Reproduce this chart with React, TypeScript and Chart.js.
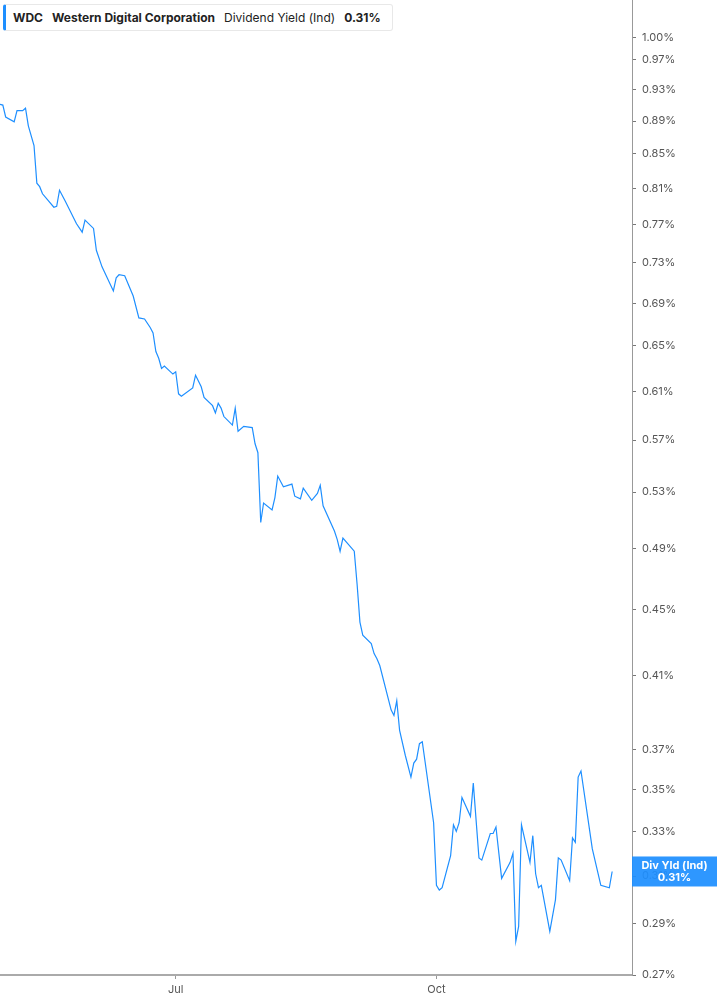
import React, { useRef, useEffect } from "react";
import { Chart, ChartConfiguration, Plugin } from "chart.js/auto";

// days counted from Jul 1
const days = [
  -62, -61, -60, -57, -56, -54, -53, -52, -50, -49, -48, -47, -43, -42, -41, -39,
  -35, -33, -32, -29, -28, -26, -22, -21, -20, -18, -15, -13, -11, -9, -8, -7,
  -6, -5, -4, -1, 0, 1, 2, 6, 7, 9, 10, 13, 14, 15, 16, 17,
  20, 21, 22, 24, 27, 28, 29, 30, 31, 34, 35, 36, 38, 41, 42, 44,
  45, 48, 50, 51, 52, 56, 57, 58, 59, 63, 64, 65, 66, 69, 70, 71,
  72, 76, 77, 78, 79, 81, 83, 84, 85, 86, 87, 91, 92, 93, 94, 97,
  98, 99, 100, 101, 104, 105, 107, 108, 111, 112, 113, 115, 118, 119, 120, 121,
  122, 125, 126, 127, 128, 129, 132, 134, 135, 136, 139, 140, 141, 142, 143, 147,
  150, 153, 154,
];

// dividend yield, %
const yieldPct = [
  0.911, 0.910, 0.895, 0.889, 0.903, 0.903, 0.906, 0.884, 0.860, 0.816, 0.812, 0.804, 0.789, 0.790, 0.808, 0.796,
  0.771, 0.762, 0.775, 0.766, 0.743, 0.726, 0.702, 0.715, 0.718, 0.717, 0.697, 0.676, 0.675, 0.667, 0.662, 0.645,
  0.639, 0.630, 0.632, 0.625, 0.627, 0.608, 0.606, 0.613, 0.624, 0.614, 0.605, 0.598, 0.592, 0.600, 0.596, 0.589,
  0.582, 0.596, 0.577, 0.581, 0.580, 0.567, 0.560, 0.508, 0.522, 0.517, 0.526, 0.542, 0.534, 0.536, 0.527, 0.525,
  0.533, 0.524, 0.529, 0.535, 0.520, 0.502, 0.496, 0.488, 0.497, 0.488, 0.466, 0.442, 0.434, 0.429, 0.423, 0.420,
  0.416, 0.391, 0.388, 0.396, 0.380, 0.367, 0.356, 0.363, 0.365, 0.373, 0.374, 0.334, 0.306, 0.304, 0.305, 0.319,
  0.333, 0.330, 0.334, 0.346, 0.337, 0.353, 0.318, 0.317, 0.329, 0.329, 0.332, 0.309, 0.316, 0.320, 0.283, 0.289,
  0.333, 0.316, 0.328, 0.311, 0.305, 0.306, 0.287, 0.300, 0.318, 0.317, 0.308, 0.327, 0.325, 0.356, 0.359, 0.322,
  0.306, 0.305, 0.312,
];

const yTicks = [
  0.27, 0.29, 0.31, 0.33, 0.35, 0.37, 0.41, 0.45, 0.49, 0.53, 0.57, 0.61, 0.65,
  0.69, 0.73, 0.77, 0.81, 0.85, 0.89, 0.93, 0.97, 1.0,
];
const xTickDays = [0, 92];
const xTickLabels = ["Jul", "Oct"];

const BLUE = "#1e8fff";
const FONT = "Inter, 'Noto Sans', sans-serif";

const lastLabel: Plugin = {
  id: "lastLabel",
  afterDraw(chart) {
    const ctx = chart.ctx;
    const ys = chart.scales.y;
    const last = yieldPct[yieldPct.length - 1];
    const cy = ys.getPixelForValue(last);
    const left = chart.chartArea.right;
    const right = chart.width;
    ctx.save();
    ctx.fillStyle = "rgba(30,143,255,0.93)";
    ctx.fillRect(left, cy - 15, right - left, 30);
    ctx.fillStyle = "#ffffff";
    ctx.font = `bold 11px ${FONT}`;
    ctx.textAlign = "center";
    ctx.textBaseline = "middle";
    const cx = (left + right) / 2;
    ctx.fillText("Div Yld (Ind)", cx, cy - 6);
    ctx.fillText(last.toFixed(2) + "%", cx, cy + 6);
    ctx.restore();
  },
};

const YieldChart: React.FC = () => {
  const chartRef = useRef<HTMLCanvasElement | null>(null);
  const chartInstanceRef = useRef<Chart | null>(null);

  useEffect(() => {
    document.body.style.margin = "0";
    if (chartRef.current) {
      const ctx = chartRef.current.getContext("2d");
      if (ctx) {
        if (chartInstanceRef.current) {
          chartInstanceRef.current.destroy();
        }
        const chartConfig: ChartConfiguration = {
          type: "line",
          data: {
            datasets: [
              {
                label: "Div Yld (Ind)",
                data: days.map((d, i) => ({ x: d, y: yieldPct[i] })),
                borderColor: BLUE,
                borderWidth: 1.2,
                pointRadius: 0,
                tension: 0,
                fill: false,
              },
            ],
          },
          options: {
            animation: false,
            responsive: true,
            maintainAspectRatio: false,
            layout: { padding: 0 },
            plugins: {
              legend: { display: false },
              tooltip: { enabled: false },
            },
            scales: {
              x: {
                type: "linear",
                min: -62,
                max: 161,
                afterBuildTicks: (scale: any) => {
                  scale.ticks = xTickDays.map((v) => ({ value: v }));
                },
                afterFit: (scale: any) => {
                  scale.height = 30;
                },
                ticks: {
                  color: "#555",
                  font: { family: FONT, size: 11 },
                  padding: 4,
                  maxRotation: 0,
                  callback: (v: any) => xTickLabels[xTickDays.indexOf(v)] ?? "",
                },
                grid: {
                  drawOnChartArea: false,
                  tickLength: 4,
                  color: "#999",
                },
                border: { color: "#aaa", width: 2 },
              },
              y: {
                type: "logarithmic",
                position: "right",
                min: 0.27,
                max: 1.053,
                afterBuildTicks: (scale: any) => {
                  scale.ticks = yTicks.map((v) => ({ value: v }));
                },
                afterFit: (scale: any) => {
                  scale.width = 85;
                },
                ticks: {
                  color: "#555",
                  font: { family: FONT, size: 11 },
                  padding: 6,
                  callback: (v: any) => Number(v).toFixed(2) + "%",
                },
                grid: {
                  drawOnChartArea: false,
                  tickLength: 4,
                  color: "#777",
                },
                border: { color: "#999", width: 1 },
              },
            },
          },
          plugins: [lastLabel],
        };
        chartInstanceRef.current = new Chart(ctx, chartConfig);
      }
    }
    return () => {
      if (chartInstanceRef.current) {
        chartInstanceRef.current.destroy();
        chartInstanceRef.current = null;
      }
    };
  }, []);

  return (
    <div style={{ position: "absolute", left: 0, top: 0, width: 717, height: 1005, overflow: "hidden" }}>
      <div style={{ position: "absolute", left: 0, top: -12, width: 717, height: 1017 }}>
        <canvas ref={chartRef}></canvas>
      </div>
      <div
        style={{
          position: "absolute",
          left: 3,
          top: 4,
          height: 25,
          padding: "0 11px 0 7px",
          display: "flex",
          alignItems: "center",
          gap: 9,
          background: "#fff",
          border: "1px solid #e8e8e8",
          borderLeft: `3px solid ${BLUE}`,
          borderRadius: 3,
          fontFamily: FONT,
          fontSize: 12,
          color: "#222",
          whiteSpace: "nowrap",
        }}
      >
        <span style={{ fontWeight: 700 }}>WDC</span>
        <span style={{ fontWeight: 700 }}>Western Digital Corporation</span>
        <span>Dividend Yield (Ind)</span>
        <span style={{ fontWeight: 700 }}>0.31%</span>
      </div>
    </div>
  );
};

export default function App() {
  return <YieldChart />;
}
